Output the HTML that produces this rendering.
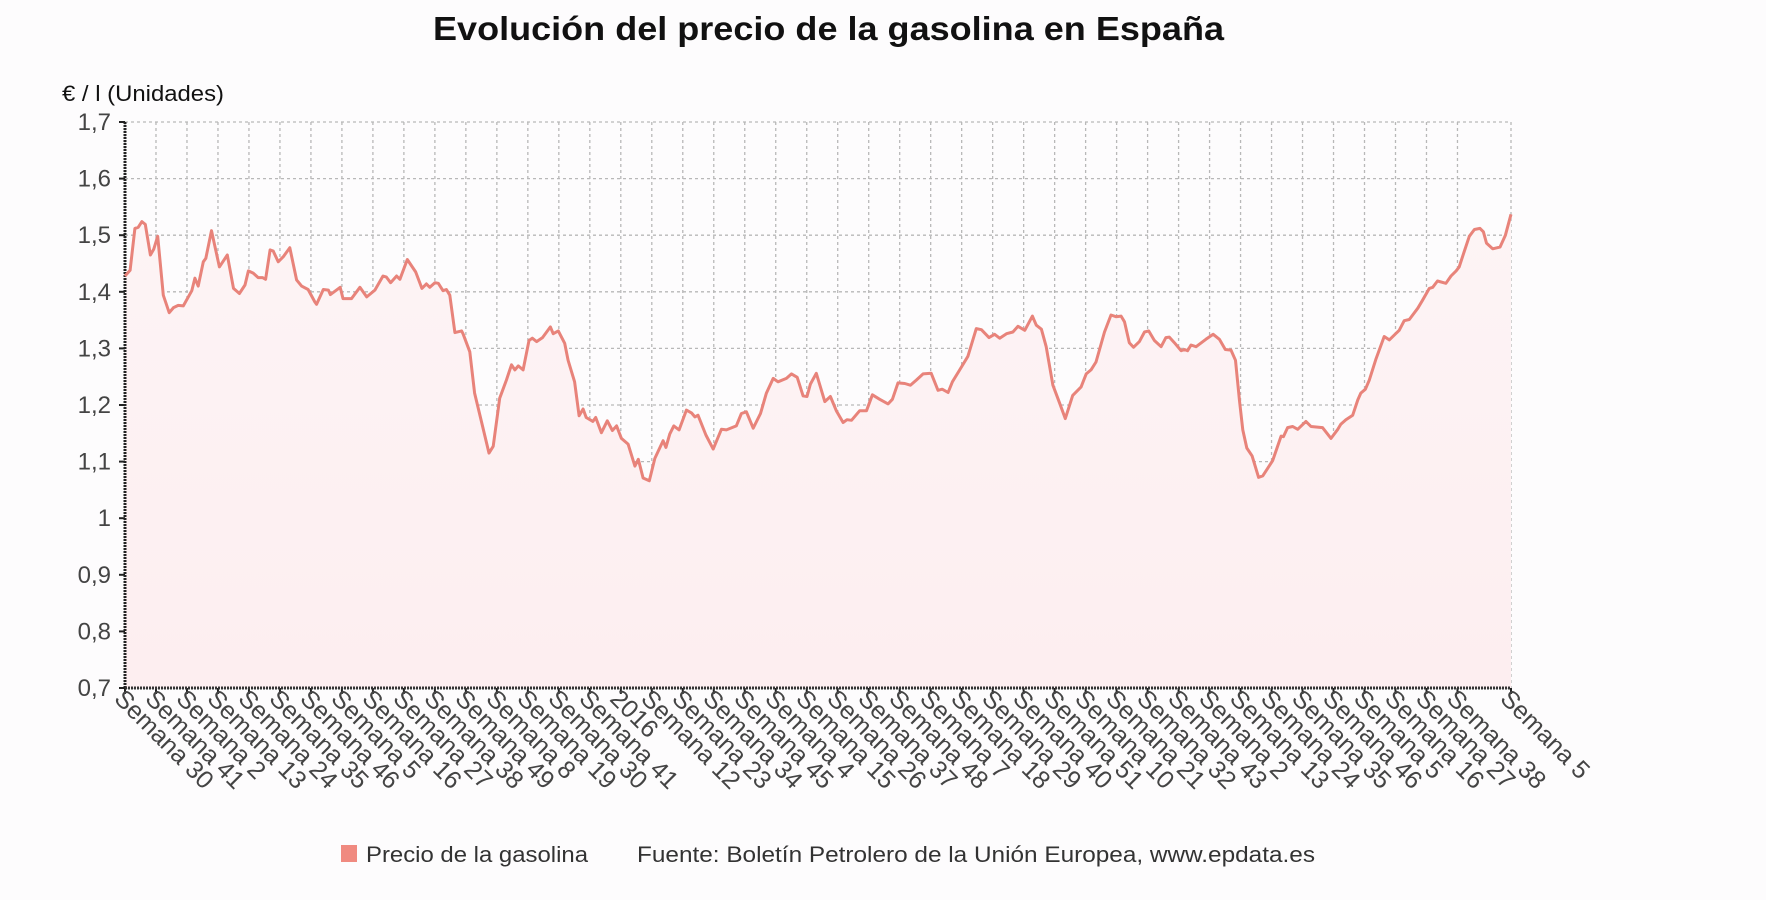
<!DOCTYPE html>
<html><head><meta charset="utf-8"><style>
html,body{margin:0;padding:0;background:#fdfcfd;}
svg{display:block;font-family:"Liberation Sans",sans-serif;}
</style></head><body>
<svg id="chart" width="1766" height="900" viewBox="0 0 1766 900" xmlns="http://www.w3.org/2000/svg">
<defs><linearGradient id="fillg" x1="0" y1="0" x2="0" y2="1"><stop offset="0" stop-color="#fdf4f5"/><stop offset="1" stop-color="#fdeef0"/></linearGradient></defs>
<text x="433" y="40" font-size="33" font-weight="bold" fill="#111" textLength="791" lengthAdjust="spacingAndGlyphs">Evolución del precio de la gasolina en España</text>
<text x="62" y="101" font-size="22" fill="#111" textLength="162" lengthAdjust="spacingAndGlyphs">€ / l (Unidades)</text>
<g id="grid"></g>
<path id="area" fill="url(#fillg)"/>
<g id="axes"></g>
<path id="line" fill="none" stroke="#e8837a" stroke-width="3" stroke-linejoin="round"/>
<g id="xlabels"></g>
<g id="ylabels"></g>
<rect x="341" y="845" width="16" height="17" fill="#f08a80"/>
<text x="366" y="862" font-size="22" fill="#333" textLength="222" lengthAdjust="spacingAndGlyphs">Precio de la gasolina</text>
<text x="637" y="862" font-size="22" fill="#333" textLength="678" lengthAdjust="spacingAndGlyphs">Fuente: Boletín Petrolero de la Unión Europea, www.epdata.es</text>
</svg>
<script>
const weeks = [0,1.8,3.5,4.7,6.0,7.2,9.0,10.2,11.6,13.6,15.7,17.2,18.9,20.7,23.7,24.8,26.0,27.8,28.7,30.7,33.5,36.3,38.5,40.6,42.6,43.8,45.5,47.3,48.8,49.9,51.5,52.6,54.4,56.2,58.5,60.9,62.7,65.0,67.4,68.0,70.4,72.2,72.9,76.4,77.4,80.4,83.4,85.8,88.7,91.6,92.8,94.3,96.4,97.6,100.2,103.2,105.4,107.0,108.2,110.0,111.2,112.9,114.1,115.3,117.1,119.5,120.0,122.4,124.1,126.5,129.2,130.7,133.0,135.4,137.2,138.4,139.6,141.3,143.4,144.6,146.1,148.2,151.0,152.0,153.8,156.1,157.3,159.6,161.2,162.6,163.7,166.1,167.1,169.1,171.2,173.0,174.5,176.2,178.6,181.0,182.2,183.9,186.1,188.1,191.0,192.0,193.4,194.8,196.7,199.3,201.1,202.3,203.4,206.2,208.8,211.7,213.5,217.0,218.8,220.6,223.0,225.6,227.7,230.1,231.8,234.8,236.6,238.6,240.7,242.1,243.3,245.4,248.4,250.4,252.5,254.9,256.3,257.9,260.8,263.2,265.3,267.9,270.9,272.4,274.4,276.8,278.8,280.9,283.3,286.2,288.6,290.1,292.2,293.7,296.3,299.2,302.2,304.0,306.7,308.7,310.5,312.9,315.2,317.0,319.4,322.1,323.5,325.3,327.0,329.4,331.8,333.8,336.4,339.4,341.2,342.9,344.7,347.7,350.0,351.8,353.6,354.8,356.5,358.0,360.1,361.9,363.4,365.4,367.8,369.5,370.7,372.5,374.9,376.1,377.2,378.4,380.2,383.7,386.3,388.5,390.6,392.6,394.2,395.6,396.8,398.2,400.1,402.4,403.9,405.6,407.4,410.4,411.2,412.7,414.5,416.3,419.2,421.0,425.1,428.1,430.5,431.6,433.4,435.8,437.6,438.7,440.3,441.7,444.1,447.0,448.8,452.3,454.1,455.9,458.9,460.6,463.0,464.2,465.9,468.9,470.7,472.5,473.6,475.4,477.2,479.0,481.0,482.2,483.3,485.5,488.1,490.0,492.0];
const prices = [1.428,1.438,1.512,1.514,1.524,1.519,1.465,1.475,1.498,1.394,1.363,1.372,1.376,1.375,1.402,1.424,1.410,1.453,1.459,1.508,1.444,1.465,1.406,1.397,1.412,1.437,1.433,1.425,1.425,1.422,1.474,1.472,1.453,1.462,1.478,1.421,1.410,1.404,1.382,1.378,1.404,1.403,1.395,1.408,1.388,1.388,1.408,1.391,1.403,1.428,1.426,1.416,1.428,1.422,1.457,1.435,1.406,1.414,1.408,1.416,1.415,1.402,1.404,1.394,1.328,1.331,1.326,1.294,1.221,1.171,1.115,1.127,1.212,1.244,1.271,1.262,1.269,1.262,1.314,1.318,1.312,1.319,1.338,1.326,1.331,1.309,1.279,1.241,1.181,1.193,1.178,1.171,1.178,1.151,1.172,1.155,1.163,1.141,1.131,1.092,1.104,1.071,1.066,1.106,1.137,1.125,1.149,1.163,1.156,1.191,1.186,1.179,1.182,1.147,1.122,1.157,1.156,1.163,1.185,1.188,1.159,1.185,1.221,1.247,1.241,1.247,1.255,1.249,1.216,1.215,1.237,1.256,1.206,1.215,1.190,1.169,1.174,1.173,1.190,1.190,1.218,1.210,1.202,1.210,1.239,1.238,1.235,1.244,1.255,1.256,1.226,1.228,1.222,1.241,1.262,1.286,1.335,1.333,1.319,1.325,1.318,1.326,1.329,1.339,1.332,1.357,1.341,1.334,1.303,1.235,1.203,1.176,1.217,1.232,1.255,1.262,1.276,1.329,1.359,1.356,1.357,1.347,1.310,1.302,1.312,1.329,1.331,1.314,1.303,1.319,1.320,1.310,1.296,1.298,1.296,1.306,1.303,1.316,1.325,1.316,1.298,1.297,1.279,1.209,1.156,1.124,1.110,1.072,1.075,1.088,1.102,1.145,1.144,1.160,1.162,1.157,1.171,1.162,1.160,1.141,1.157,1.166,1.174,1.182,1.209,1.221,1.228,1.244,1.282,1.321,1.315,1.332,1.349,1.351,1.371,1.385,1.406,1.408,1.419,1.415,1.428,1.437,1.444,1.471,1.498,1.510,1.512,1.506,1.486,1.476,1.479,1.500,1.537];
const xTickLabels = ["Semana 30","Semana 41","Semana 2","Semana 13","Semana 24","Semana 35","Semana 46","Semana 5","Semana 16","Semana 27","Semana 38","Semana 49","Semana 8","Semana 19","Semana 30","Semana 41","2016","Semana 12","Semana 23","Semana 34","Semana 45","Semana 4","Semana 15","Semana 26","Semana 37","Semana 48","Semana 7","Semana 18","Semana 29","Semana 40","Semana 51","Semana 10","Semana 21","Semana 32","Semana 43","Semana 2","Semana 13","Semana 24","Semana 35","Semana 46","Semana 5","Semana 16","Semana 27","Semana 38","Semana 5"];
const xTickWeeks = [0,11,22,33,44,55,66,77,88,99,110,121,132,143,154,165,176,187,198,209,220,231,242,253,264,275,286,297,308,319,330,341,352,363,374,385,396,407,418,429,440,451,462,473,492];
const yTicks = [0.7,0.8,0.9,1.0,1.1,1.2,1.3,1.4,1.5,1.6,1.7];
const yTickLabels = ["0,7","0,8","0,9","1","1,1","1,2","1,3","1,4","1,5","1,6","1,7"];

const L=125,R=1511,T=122,B=688,WMAX=492,YMIN=0.7,YMAX=1.7;
const sx=w=>L+(w/WMAX)*(R-L);
const sy=v=>B-(v-YMIN)/(YMAX-YMIN)*(B-T);
const NS='http://www.w3.org/2000/svg';
function mk(tag,attrs,parent){const e=document.createElementNS(NS,tag);for(const k in attrs)e.setAttribute(k,attrs[k]);parent.appendChild(e);return e;}
const grid=document.getElementById('grid'),axes=document.getElementById('axes'),xl=document.getElementById('xlabels'),yl=document.getElementById('ylabels');
yTicks.forEach((v,i)=>{
  const g=mk('line',{x1:L,x2:R,y1:sy(v),y2:sy(v),stroke:'#b8b8b8','stroke-width':1.3,'stroke-dasharray':'3,3'},grid);
  
  
  const t=mk('text',{x:L-14,y:sy(v)+8,'font-size':24,fill:'#444','text-anchor':'end'},yl);
  t.textContent=yTickLabels[i];
  
  
  mk('line',{x1:L-6,x2:L,y1:sy(v),y2:sy(v),stroke:'#222','stroke-width':2},axes);
});
xTickWeeks.forEach((w,i)=>{
  const x=sx(w);
  const g=mk('line',{x1:x,x2:x,y1:T,y2:B,stroke:'#b8b8b8','stroke-width':1.3,'stroke-dasharray':'3,3'},grid);
  
  
  mk('line',{x1:x,x2:x,y1:B,y2:B+6,stroke:'#222','stroke-width':2},axes);
  const t=mk('text',{x:0,y:0,'font-size':25,fill:'#444',transform:`translate(${x-12},${B+12}) rotate(45)`},xl);
  t.textContent=xTickLabels[i];
  
  
});
const la=mk('line',{x1:L,x2:L,y1:T,y2:B,stroke:'#222','stroke-width':3,'stroke-dasharray':'2,1'},axes);


const lb=mk('line',{x1:L,x2:R,y1:B,y2:B,stroke:'#333','stroke-width':3,'stroke-dasharray':'2,1'},axes);


let d='';
weeks.forEach((w,i)=>{d+=(i?'L':'M')+sx(w).toFixed(1)+','+sy(prices[i]).toFixed(1);});
document.getElementById('line').setAttribute('d',d);
document.getElementById('area').setAttribute('d',d+`L${sx(weeks[weeks.length-1])},${B}L${sx(weeks[0])},${B}Z`);
</script>
</body></html>
